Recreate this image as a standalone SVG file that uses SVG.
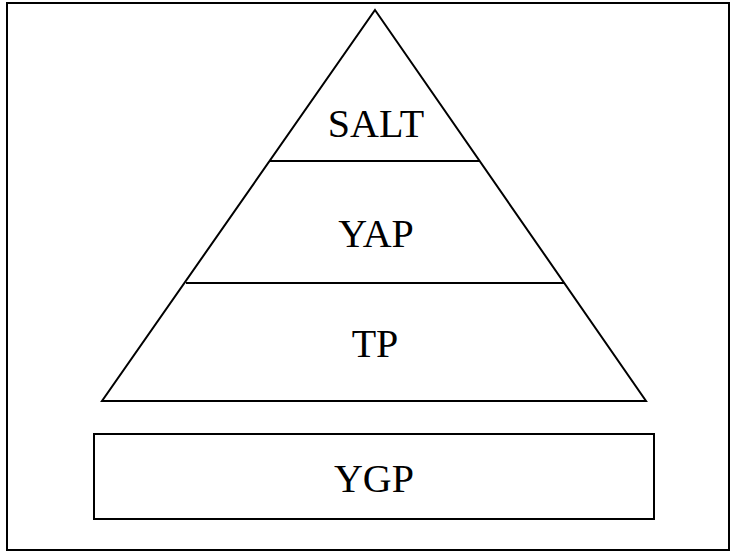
<svg xmlns="http://www.w3.org/2000/svg" width="733" height="553" viewBox="0 0 733 553">
<style>
.ln{stroke:#000;stroke-width:2;fill:none}
.t{font-family:"Liberation Serif","Times New Roman",serif;font-size:40px;fill:#000;text-anchor:middle}
</style>
<rect width="733" height="553" fill="#fff"/>
<rect id="frame" class="ln" x="7" y="3" width="722" height="547"/>
<g id="pyramid">
<polygon class="ln" points="375,10 646,401 102,401" stroke-linejoin="miter"/>
</g>
<g id="connectors">
<line class="ln" x1="269" y1="161" x2="480" y2="161"/>
<line class="ln" x1="186" y1="283" x2="564" y2="283"/>
</g>
<g id="salt"><text class="t" x="376" y="137">SALT</text></g>
<g id="yap"><text class="t" x="376" y="247">YAP</text></g>
<g id="tp"><text class="t" x="375" y="357">TP</text></g>
<g id="ygp">
<rect class="ln" x="94" y="434" width="560" height="85"/>
<text class="t" x="374" y="492">YGP</text>
</g>
</svg>
